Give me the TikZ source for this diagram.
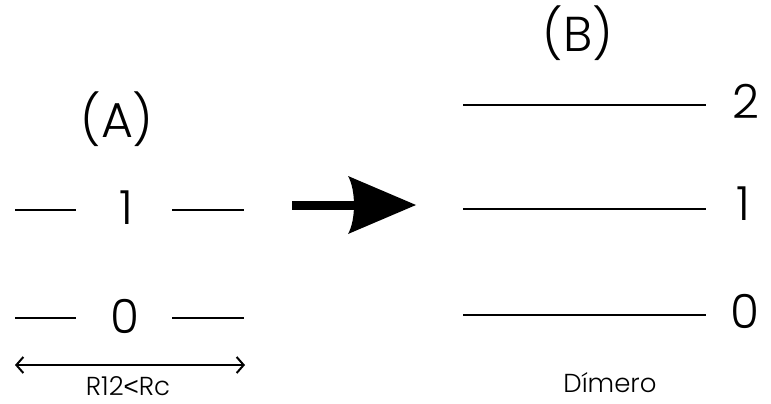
\documentclass[tikz,border=0pt]{standalone}
\usepackage{fontspec}
\setmainfont{Poppins}[UprightFont={Poppins Light}]
\newfontfamily\symfont{Liberation Sans}
\usetikzlibrary{arrows.meta}
\begin{document}
\begin{tikzpicture}[x=1pt,y=-1pt,
  level/.style={line width=1.5pt},
  big/.style={font=\fontsize{49}{54}\selectfont},
  num/.style={font=\fontsize{47}{52}\selectfont},
  small/.style={font=\fontsize{26}{30}\selectfont,inner sep=0pt},
  arrtip/.style={line width=2pt,{Straight Barb[length=7pt,width=16pt]}-{Straight Barb[length=7pt,width=16pt]}}]
\useasboundingbox (0,0) rectangle (771,404);
% titles
\node[big] (A) at (117,119) {(A)};
\node[big] (B) at (578,33) {(B)};
% left levels
\node[num] (l1) at (126,208) {1};
\node[num] (l0) at (125,316) {0};
\coordinate (a1s) at (15,210); \coordinate (a1e) at (76,210);
\coordinate (b1s) at (172,210); \coordinate (b1e) at (244,210);
\coordinate (a0s) at (15,318); \coordinate (a0e) at (76,318);
\coordinate (b0s) at (172,318); \coordinate (b0e) at (244,318);
\draw[level] (a1s) -- (a1e); \draw[level] (b1s) -- (b1e);
\draw[level] (a0s) -- (a0e); \draw[level] (b0s) -- (b0e);
% distance
\coordinate (d1) at (15,365); \coordinate (d2) at (245,365);
\draw[arrtip] (d1) -- (d2);
\node[small,anchor=base] (R) at (128,395) {R12{\symfont<}Rc};
% big arrow
\coordinate (s0) at (292,205);
\coordinate (tip) at (416,205);
\fill (s0) ++(0,-4.5) rectangle (355,209.5);
\fill (tip) -- (348,176) .. controls (356,190) and (356,220) .. (348,234) -- cycle;
% right levels
\coordinate (r2s) at (463,105); \coordinate (r2e) at (706,105);
\coordinate (r1s) at (463,209); \coordinate (r1e) at (706,209);
\coordinate (r0s) at (463,315); \coordinate (r0e) at (706,315);
\draw[level] (r2s) -- (r2e);
\draw[level] (r1s) -- (r1e);
\draw[level] (r0s) -- (r0e);
\node[num] (n2) at (746,101) {2};
\node[num] (n1) at (743,204) {1};
\node[num] (n0) at (745,311) {0};
\node[font=\fontsize{26}{30}\selectfont] (D) at (610,383) {Dímero};
\end{tikzpicture}
\end{document}
